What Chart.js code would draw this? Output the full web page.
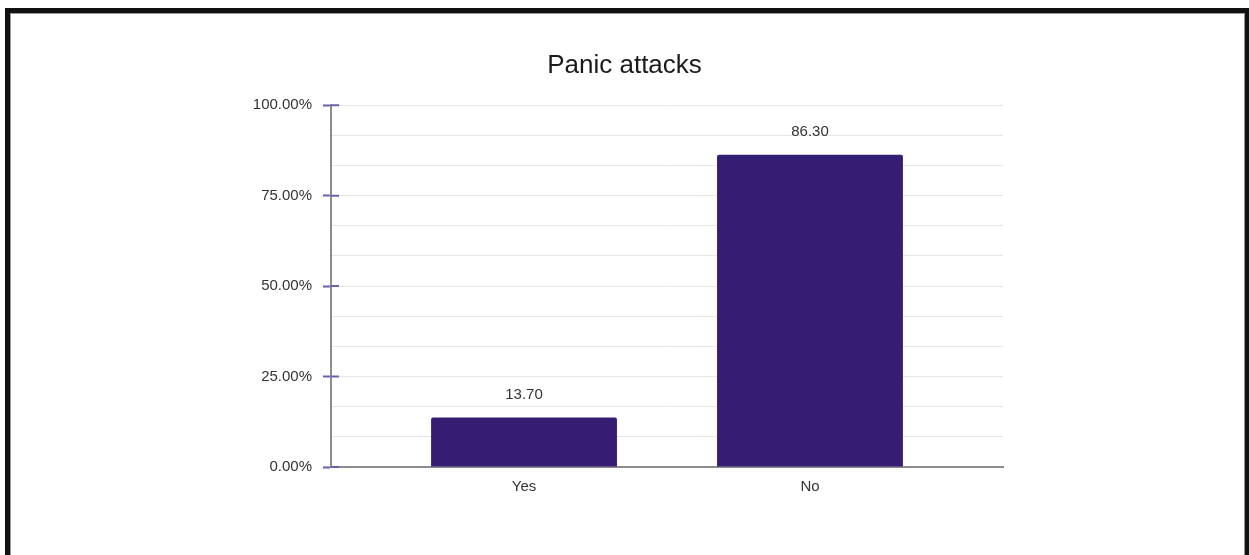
<!DOCTYPE html>
<html>
<head>
<meta charset="utf-8">
<title>Panic attacks</title>
<script src="https://cdn.jsdelivr.net/npm/chart.js@4.4.1/dist/chart.umd.min.js"></script>
<style>
    html, body { margin: 0; padding: 0; background: #fff; overflow: hidden; }
    #wrap { position: relative; width: 1249px; height: 555px; }
    #frame {
        position: absolute; left: 5px; top: 8px; width: 1235px; height: 600px;
        border: 5px solid #111; border-bottom: none;
        box-shadow: inset 1px 1px 0 #9a9a9a, inset -1px 0 0 #9a9a9a;
        pointer-events: none;
    }
</style>
</head>
<body>
<div id="wrap">
    <canvas id="panicChart"></canvas>
    <div id="frame"></div>
</div>
<script>
const categories = ['Yes', 'No'];
const shares = [13.70, 86.30];
const yTickValues = [0, 8.33, 16.67, 25, 33.33, 41.67, 50, 58.33, 66.67, 75, 83.33, 91.67, 100];
const yTickLabels = ['0.00%', '25.00%', '50.00%', '75.00%', '100.00%'];

const barColor = '#361d74';
const tickPurple = '#6b5fae';
const axisGrey = '#8c8c8c';
const labelFont = { family: '"Liberation Sans", Arial, sans-serif', size: 15 };

// value printed above each bar
const barValueLabels = {
    id: 'barValueLabels',
    afterDatasetsDraw(chart) {
        const ctx = chart.ctx;
        const meta = chart.getDatasetMeta(0);
        ctx.save();
        ctx.font = '15px "Liberation Sans", Arial, sans-serif';
        ctx.fillStyle = '#333';
        ctx.textAlign = 'center';
        ctx.textBaseline = 'middle';
        meta.data.forEach((bar, i) => {
            ctx.fillText(shares[i].toFixed(2), bar.x, bar.y - 23);
        });
        ctx.restore();
    }
};

// major y ticks cross the axis line a little into the plot
const crossTicks = {
    id: 'crossTicks',
    beforeDatasetsDraw(chart) {
        const ctx = chart.ctx;
        const y = chart.scales.y;
        ctx.save();
        ctx.strokeStyle = tickPurple;
        ctx.lineWidth = 2;
        ctx.beginPath();
        y.ticks.forEach((t, i) => {
            if (i % 3) return;
            const py = y.getPixelForValue(t.value);
            ctx.moveTo(y.right, py);
            ctx.lineTo(y.right + 8, py);
        });
        ctx.stroke();
        ctx.restore();
    }
};

const ctx = document.getElementById('panicChart').getContext('2d');
new Chart(ctx, {
    type: 'bar',
    data: {
        datasets: [{
            data: shares.map((v, i) => ({ x: i, y: v })),
            backgroundColor: barColor,
            borderRadius: 2,
            barPercentage: 0.65,
            categoryPercentage: 1
        }]
    },
    options: {
        responsive: true,
        maintainAspectRatio: false,
        animation: false,
        layout: { padding: { left: 246, right: 246, top: 50, bottom: 56 } },
        plugins: {
            legend: { display: false },
            tooltip: { enabled: false },
            title: {
                display: true,
                text: 'Panic attacks',
                color: '#1a1a1a',
                font: { family: '"Liberation Sans", Arial, sans-serif', size: 26, weight: 'normal' },
                padding: { top: 0, bottom: 24 }
            }
        },
        scales: {
            x: {
                type: 'linear',
                offset: false,
                min: -0.675,
                max: 1.675,
                afterBuildTicks: s => { s.ticks = categories.map((_, i) => ({ value: i })); },
                ticks: {
                    callback: v => categories[v],
                    color: '#333',
                    font: labelFont,
                    padding: 3
                },
                grid: { display: false },
                border: { color: axisGrey, width: 2 }
            },
            y: {
                min: 0,
                max: 100,
                afterBuildTicks: s => { s.ticks = yTickValues.map(v => ({ value: v })); },
                afterFit: s => { s.width = 85; },
                ticks: {
                    autoSkip: false,
                    callback: (v, i) => (i % 3 === 0 ? yTickLabels[i / 3] : ''),
                    color: '#333',
                    font: labelFont,
                    padding: 11
                },
                grid: {
                    color: '#e6e6e6',
                    lineWidth: 1,
                    tickLength: 8,
                    tickWidth: 2,
                    tickColor: c => (c.index % 3 === 0 ? tickPurple : 'rgba(0,0,0,0)')
                },
                border: { color: axisGrey, width: 2 }
            }
        }
    },
    plugins: [barValueLabels, crossTicks]
});
</script>
</body>
</html>
